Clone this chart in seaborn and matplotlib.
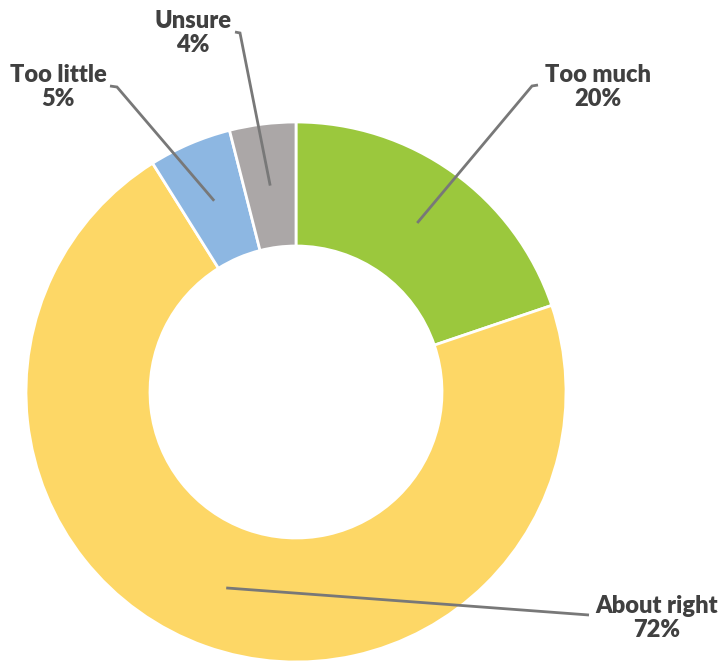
import numpy as np
import matplotlib
matplotlib.use("Agg")
import matplotlib.pyplot as plt
import seaborn as sns

# Survey responses (percent)
categories = ["Too much", "About right", "Too little", "Unsure"]
shares = [20, 72, 5, 4]
colors = ["#9BC83D", "#FDD766", "#8DB7E2", "#ABA7A7"]

sns.set_theme(style="white")
plt.rcParams["font.family"] = ["Lato", "DejaVu Sans"]

W, H = 725, 666
fig = plt.figure(figsize=(W / 100, H / 100), dpi=100)
ax = fig.add_axes([0, 0, 1, 1])

center = (296, 274)
radius = 270
ring = 124

wedges, _ = ax.pie(
    shares,
    colors=sns.color_palette(colors),
    startangle=90,
    counterclock=False,
    radius=radius,
    center=center,
    wedgeprops=dict(width=ring, edgecolor="white", linewidth=2),
)
ax.set_xlim(0, W)
ax.set_ylim(0, H)
ax.set_aspect("equal")
ax.axis("off")

# label text centre, and where the leader meets the label
label_pos = {
    "Too much": (598, 579),
    "About right": (657, 48),
    "Too little": (58, 579),
    "Unsure": (193, 633),
}
elbows = {
    "Too much": [(538, 581), (532, 580)],
    "About right": [(589, 51)],
    "Too little": [(110, 580), (117, 579)],
    "Unsure": [(235, 634), (240, 633)],
}

mid_r = radius - ring / 2
for w, cat, val in zip(wedges, categories, shares):
    ang = np.deg2rad((w.theta1 + w.theta2) / 2)
    px = center[0] + mid_r * np.cos(ang)
    py = center[1] + mid_r * np.sin(ang)
    pts = elbows[cat] + [(px, py)]
    xs, ys = zip(*pts)
    ax.plot(xs, ys, color="#787878", lw=2.0, solid_capstyle="butt",
            solid_joinstyle="miter", zorder=3)
    tx, ty = label_pos[cat]
    ax.text(tx, ty, f"{cat}\n{val}%", ha="center", va="center",
            fontsize=17, fontweight="heavy", color="#404040",
            linespacing=1.15)

fig.savefig("out.png", dpi=100, facecolor="white")
